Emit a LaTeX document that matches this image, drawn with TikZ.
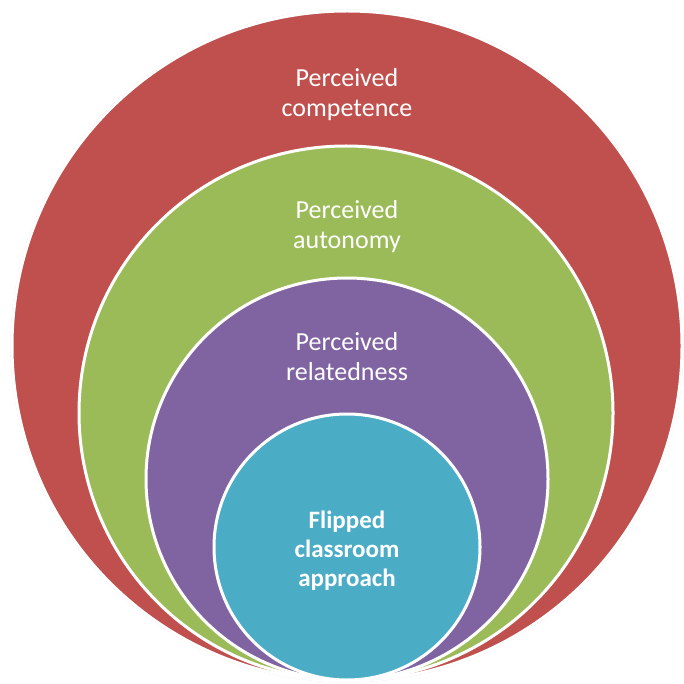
\documentclass[tikz,border=0pt]{standalone}
\usepackage{fontspec}
\setmainfont{Carlito}
\definecolor{cred}{HTML}{C0504D}
\definecolor{cgreen}{HTML}{9BBB59}
\definecolor{cpurple}{HTML}{8064A2}
\definecolor{cteal}{HTML}{4BACC6}
\begin{document}
\begin{tikzpicture}[x=1pt,y=-1pt,
  ring/.style={circle,draw=white,line width=3pt,inner sep=0pt},
  lbl/.style={text=white,align=center,font=\fontsize{26}{30}\selectfont}]
\useasboundingbox (0,0) rectangle (683,684);
\draw[gray!25,line width=1pt] (347,346) circle (336);
\node[ring,fill=cred,minimum size=670pt] (red) at (347,346) {};
\node[ring,fill=cgreen,minimum size=534pt] (green) at (346,413) {};
\node[ring,fill=cpurple,minimum size=402pt] (purple) at (347,479) {};
\node[ring,fill=cteal,minimum size=266pt] (teal) at (347,547) {};
\node[lbl] (t1) at (347,95) {Perceived\\competence};
\node[lbl] (t2) at (347,227) {Perceived\\autonomy};
\node[lbl] (t3) at (347,357) {Perceived\\relatedness};
\node[lbl,font=\fontsize{25}{29}\bfseries] (t4) at (347,551) {Flipped\\classroom\\approach};
\end{tikzpicture}
\end{document}
